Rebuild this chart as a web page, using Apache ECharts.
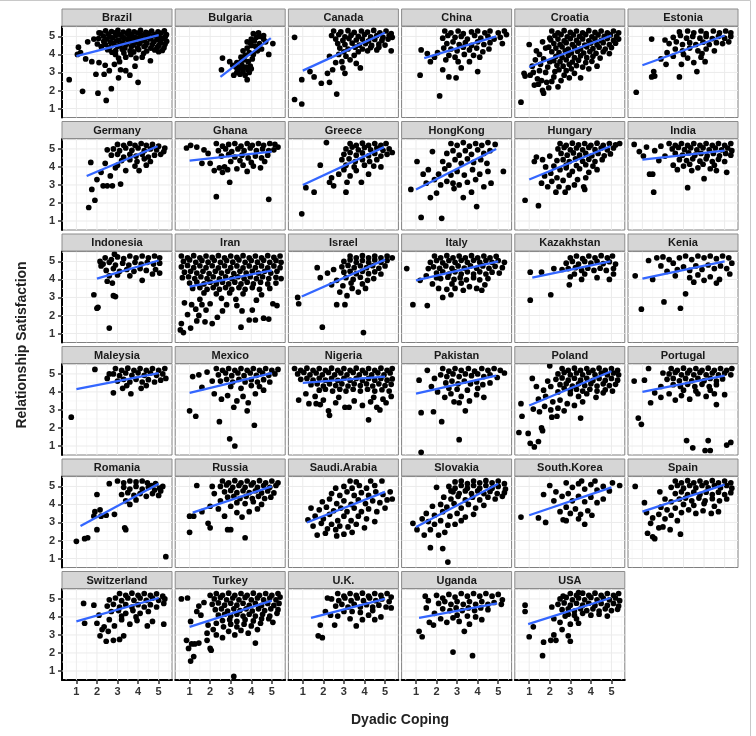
<!DOCTYPE html>
<html>
<head>
<meta charset="utf-8">
<script src="https://cdn.jsdelivr.net/npm/echarts@6/dist/echarts.min.js"></script>
<style>
  html, body { margin: 0; padding: 0; background: #fff; }
  #chart { width: 756px; height: 736px; }
</style>
</head>
<body>
<div id="chart"></div>
<script>
// facet names, in reading order
const countries = ['Brazil', 'Bulgaria', 'Canada', 'China', 'Croatia', 'Estonia',
  'Germany', 'Ghana', 'Greece', 'HongKong', 'Hungary', 'India',
  'Indonesia', 'Iran', 'Israel', 'Italy', 'Kazakhstan', 'Kenia',
  'Maleysia', 'Mexico', 'Nigeria', 'Pakistan', 'Poland', 'Portugal',
  'Romania', 'Russia', 'Saudi.Arabia', 'Slovakia', 'South.Korea', 'Spain',
  'Switzerland', 'Turkey', 'U.K.', 'Uganda', 'USA'];

// regression line per country: [x1, y1, x2, y2]
const fitLines = [
  [1.0, 3.9, 5.0, 5.07], [2.5, 2.75, 4.95, 4.9], [1.0, 3.1, 5.0, 5.2], [1.4, 3.8, 4.9, 5.0], [1.0, 3.3, 5.0, 5.05], [1.0, 3.4, 5.0, 5.05],
  [1.5, 3.5, 4.95, 5.15], [1.0, 4.35, 5.0, 4.85], [1.0, 3.0, 4.95, 5.1], [1.0, 2.75, 4.9, 5.0], [1.0, 3.3, 4.95, 5.15], [1.0, 4.4, 5.0, 4.9],
  [2.0, 4.05, 5.0, 5.05], [1.0, 3.6, 5.0, 4.5], [0.95, 3.05, 5.0, 5.1], [1.0, 3.95, 5.0, 5.0], [1.15, 4.1, 4.95, 5.0], [1.0, 4.05, 5.0, 5.0],
  [1.0, 4.15, 5.0, 5.05], [1.0, 3.95, 5.0, 5.05], [1.0, 4.5, 5.0, 4.85], [1.0, 3.9, 4.9, 4.9], [1.0, 3.25, 5.0, 5.15], [1.0, 4.0, 5.0, 4.9],
  [1.2, 2.8, 5.0, 5.15], [1.15, 3.55, 5.0, 5.0], [1.2, 3.0, 5.0, 4.7], [1.0, 2.75, 5.0, 5.15], [1.0, 3.4, 5.0, 4.95], [1.0, 3.6, 5.0, 5.1],
  [1.0, 3.75, 5.0, 5.05], [1.0, 3.45, 5.0, 4.9], [1.4, 3.95, 5.0, 5.0], [1.15, 3.95, 4.95, 4.75], [0.95, 3.6, 4.95, 5.05]
];

// observed points per country, "x,y" pairs (dyadic coping, satisfaction)
const pointStrings = [
// Brazil
`0.65,2.6 1.3,1.95 2.05,1.85 2.45,1.45 2.7,2.1 3.05,2.7 4.0,2.45 3.6,2.85 3.4,3.1 3.85,3.35 4.6,3.65 2.35,2.9 1.95,2.9 2.6,3.1 3.15,3.15 2.4,3.4 2.1,3.55 2.85,3.45 3.1,3.6 1.75,3.6 1.45,3.75 1.2,4.1 1.1,4.4 1.55,4.7 1.85,4.85 2.1,5.2 1.05,4.0 2.9,4.0 3.05,3.8 3.4,3.85 3.65,4.0 3.9,3.8 4.2,3.85 5.0,4.15
2.42,5.31 2.71,5.27 3.02,5.33 3.28,5.24 3.55,5.3 3.81,5.26 4.12,5.33 4.38,5.22 4.66,5.3 4.97,5.25 5.28,5.31
2.18,5.18 2.55,5.13 2.88,5.2 3.14,5.09 3.47,5.16 3.7,5.11 3.98,5.19 4.27,5.08 4.52,5.17 4.83,5.12 5.12,5.19 5.38,5.1
2.31,5.02 2.63,4.97 2.93,5.06 3.26,4.95 3.58,5.01 3.86,4.93 4.14,5.04 4.47,4.96 4.74,5.03 5.06,4.94 5.33,4.99
2.08,4.88 2.47,4.85 2.77,4.92 3.07,4.8 3.38,4.87 3.69,4.83 4.02,4.9 4.31,4.79 4.6,4.86 4.92,4.82 5.22,4.88
2.33,4.72 2.66,4.68 2.96,4.76 3.24,4.64 3.57,4.71 3.84,4.66 4.17,4.74 4.43,4.63 4.77,4.7 5.09,4.65 5.39,4.73
2.02,4.58 2.41,4.55 2.82,4.61 3.11,4.5 3.43,4.57 3.76,4.52 4.06,4.59 4.36,4.49 4.69,4.55 5.01,4.5 5.31,4.57
2.21,4.43 2.62,4.38 3.01,4.45 3.36,4.35 3.67,4.42 3.97,4.37 4.29,4.44 4.62,4.35 4.94,4.41 5.26,4.37
2.52,4.26 2.91,4.21 3.23,4.29 3.61,4.2 4.03,4.27 4.42,4.19 4.81,4.25 5.18,4.22 2.73,4.12 3.31,4.08 3.79,4.14 4.27,4.06`,
// Bulgaria
`2.6,3.8 2.55,3.15 2.95,3.6 3.1,3.4 3.8,2.6 3.15,2.85 4.85,4.0 5.05,4.6 3.3,3.0 3.45,2.9 3.6,3.05 3.7,2.85 3.9,3.0 3.25,3.3 3.4,3.25 3.55,3.4 3.75,3.3 3.95,3.35 3.3,3.55 3.5,3.6 3.65,3.7 3.85,3.6 4.05,3.75 3.5,3.85 3.7,3.95 3.9,4.1 4.1,4.0 4.3,4.2 3.6,4.2 3.8,4.35 4.0,4.5 4.2,4.45 4.4,4.6 3.8,4.7 4.0,4.85 4.25,4.95 4.45,5.0 4.1,5.15 4.35,5.2 4.6,5.05 4.7,4.7 4.5,4.3 3.95,4.65 4.15,4.75 4.6,4.85 3.35,3.1 3.85,3.15 4.0,3.2 3.6,3.2`,
// Canada
`0.6,4.95 0.6,1.5 0.95,1.25 0.95,2.6 1.35,3.05 1.55,2.75 1.9,2.4 2.3,2.45 2.65,1.8 2.45,3.15 2.2,2.95 2.95,3.25 3.05,2.95 2.9,3.6 2.75,4.0 2.3,3.9 3.8,3.25 3.6,3.5 5.3,4.2 5.35,4.95 4.15,4.2 4.7,4.4 3.3,3.7 3.1,3.9 3.5,3.95 2.6,3.55
2.5,5.3 2.85,5.25 3.2,5.32 3.5,5.22 3.85,5.3 4.15,5.24 4.45,5.33 4.75,5.2 5.05,5.3 5.3,5.15
2.4,5.05 2.75,5.1 3.05,4.98 3.35,5.07 3.7,5.0 4.0,5.1 4.3,4.97 4.6,5.05 4.9,4.95 5.2,5.05
2.6,4.85 2.95,4.78 3.25,4.88 3.6,4.8 3.9,4.85 4.2,4.75 4.5,4.83 4.85,4.78 5.15,4.85
2.7,4.6 3.05,4.55 3.4,4.63 3.75,4.52 4.05,4.6 4.35,4.5 4.7,4.58 5.0,4.52
2.8,4.35 3.2,4.3 3.55,4.4 3.9,4.3 4.3,4.38 4.6,4.25 3.0,4.15 3.7,4.15`,
// China
`1.2,2.85 2.15,1.7 1.25,4.25 1.7,3.6 1.9,3.85 2.6,2.75 2.95,2.7 4.0,3.05 2.3,3.15 3.2,3.25 3.6,3.6 1.55,4.05 2.05,4.1
2.4,5.3 2.7,5.2 3.05,5.3 3.3,5.15 3.7,5.25 4.0,5.3 4.35,5.2 4.6,5.3 5.0,5.2 5.3,5.3 5.4,5.1
2.3,4.9 2.55,5.05 2.9,4.95 3.2,5.0 3.5,4.85 3.85,5.05 4.15,4.9 4.5,5.0 4.8,4.85 5.1,4.95
2.5,4.6 2.8,4.7 3.1,4.55 3.4,4.65 3.7,4.5 4.0,4.7 4.3,4.55 4.6,4.65 5.2,4.6
2.35,4.35 2.7,4.3 3.0,4.2 3.3,4.4 3.6,4.25 3.95,4.35 4.25,4.15 4.55,4.3
2.6,3.95 2.9,3.85 3.35,4.0 3.8,3.95 4.1,3.85 2.45,3.7 3.05,3.6`,
// Croatia
`0.6,1.35 0.8,2.8 1.05,2.85 1.25,2.3 1.45,2.35 1.65,2.0 1.7,1.85 1.95,2.15 2.4,2.2 2.95,2.7 3.5,2.7 1.0,4.55 1.35,4.2 0.75,2.95 1.2,3.0 1.4,2.65 1.6,2.55 1.85,2.45 2.1,2.5 2.2,2.75 2.55,2.55 2.7,2.85 1.5,3.1 1.8,3.0 1.15,3.35 1.55,3.45 1.9,3.3 2.25,3.05 1.3,3.7 1.7,3.75 2.0,3.6 1.5,4.0 1.8,4.35 1.65,4.7 2.0,4.9 3.2,2.95 3.9,3.2 4.3,3.35
2.1,5.3 2.4,5.2 2.7,5.32 3.0,5.22 3.3,5.3 3.6,5.2 3.9,5.32 4.2,5.22 4.5,5.3 4.8,5.2 5.1,5.3 5.35,5.2
2.25,5.05 2.55,5.1 2.85,4.98 3.15,5.08 3.45,5.0 3.75,5.1 4.05,4.98 4.35,5.08 4.65,5.0 4.95,5.08 5.25,5.0
2.05,4.8 2.4,4.85 2.7,4.75 3.0,4.88 3.3,4.78 3.6,4.86 3.9,4.75 4.2,4.86 4.5,4.78 4.8,4.88 5.1,4.78 5.35,4.85
2.2,4.6 2.5,4.55 2.8,4.65 3.1,4.55 3.4,4.63 3.7,4.52 4.0,4.63 4.3,4.55 4.6,4.65 4.9,4.55 5.2,4.62
1.95,4.4 2.3,4.35 2.6,4.42 2.9,4.3 3.2,4.4 3.5,4.3 3.8,4.42 4.1,4.32 4.4,4.4 4.7,4.3 5.0,4.38
2.1,4.15 2.45,4.1 2.75,4.2 3.05,4.08 3.35,4.18 3.65,4.08 3.95,4.16 4.25,4.06 4.6,4.15 4.9,4.05
2.3,3.9 2.6,3.85 2.9,3.95 3.2,3.82 3.5,3.92 3.8,3.82 4.1,3.9 4.45,3.8
2.2,3.65 2.5,3.6 2.8,3.7 3.1,3.58 3.4,3.68 3.75,3.55 4.05,3.62
2.35,3.4 2.65,3.35 2.95,3.45 3.3,3.38 3.6,3.3 2.45,3.15 2.8,3.1 3.05,3.2`,
// Estonia
`0.7,1.9 1.45,2.75 1.6,2.8 1.55,3.05 1.45,4.85 2.15,3.45 2.1,4.8 2.8,2.75 3.65,3.05 4.05,3.6 2.9,3.45 3.2,3.8 1.9,3.75 2.5,3.9 3.5,3.55 3.85,3.85
2.8,5.25 3.2,5.3 3.5,5.2 3.85,5.3 4.1,5.15 4.45,5.3 4.75,5.2 5.05,5.3 5.3,5.2
2.5,4.95 2.85,5.05 3.15,4.9 3.45,5.0 3.8,4.9 4.1,5.0 4.4,4.88 4.7,5.0 5.0,4.9 5.3,5.0
2.3,4.6 2.65,4.7 2.95,4.55 3.3,4.65 3.6,4.55 3.95,4.68 4.25,4.55 4.6,4.65 4.9,4.6 5.2,4.7
2.6,4.3 2.95,4.2 3.3,4.35 3.7,4.2 4.1,4.3 4.5,4.2 2.2,4.1 3.0,4.0 3.9,4.05`,
// Germany
`1.6,1.75 1.9,2.15 1.75,2.75 1.7,4.25 2.0,3.3 2.3,2.95 2.5,2.95 2.75,2.95 3.15,3.05 2.2,3.7 2.4,4.2 3.4,3.8 4.05,3.8 2.65,3.5 2.9,3.95
3.0,5.25 3.3,5.2 3.6,5.3 3.85,5.2 4.15,5.3 4.4,5.2 4.7,5.25 5.0,5.15
2.5,4.95 2.8,5.0 3.1,4.9 3.4,5.05 3.7,4.92 4.0,5.05 4.3,4.9 4.6,5.0 4.9,4.95 5.25,4.85 5.3,5.05
2.7,4.65 3.0,4.7 3.3,4.55 3.6,4.7 3.9,4.6 4.2,4.7 4.5,4.55 4.8,4.65 5.1,4.7
3.2,4.35 3.6,4.4 3.95,4.3 4.3,4.45 4.6,4.3 3.0,4.1 3.85,4.05 4.4,4.1`,
// Ghana
`0.85,5.05 1.05,5.2 1.7,4.95 1.6,4.2 2.3,2.35 2.95,3.15 4.85,2.2 2.6,3.7 2.2,3.8 2.0,4.2 2.45,3.95 2.85,3.85 3.3,3.9 3.6,4.1 4.1,4.05 4.45,3.95 3.8,3.75 1.35,5.1 1.9,4.75 2.7,4.0
2.3,5.3 2.6,5.15 2.9,5.25 3.2,5.3 3.5,5.15 3.8,5.3 4.05,5.2 4.35,5.3 4.6,5.2 4.9,5.3 5.15,5.25 5.3,5.1
2.4,4.9 2.75,5.0 3.05,4.85 3.35,5.0 3.65,4.9 3.95,5.05 4.25,4.9 4.55,5.0 4.85,4.9 5.1,4.95
2.55,4.6 2.9,4.7 3.2,4.55 3.55,4.65 3.85,4.5 4.2,4.6 4.5,4.5 4.8,4.65 3.0,4.3 3.45,4.35 4.0,4.25 4.65,4.3`,
// Greece
`0.95,1.4 1.15,2.85 1.55,2.6 1.85,4.1 2.15,5.35 2.3,3.15 2.5,2.95 2.4,3.4 3.1,2.6 3.15,3.15 3.85,3.15 3.6,3.8 4.2,3.6 4.8,4.0 2.75,3.6 3.0,3.85 3.3,3.5
3.3,5.3 3.6,5.2 3.9,5.32 4.2,5.2 4.5,5.3 4.8,5.2 5.05,5.3
3.1,5.0 3.4,5.1 3.7,4.95 4.0,5.08 4.3,4.95 4.6,5.05 4.9,4.92 5.2,5.0 5.35,4.8
3.0,4.7 3.3,4.8 3.6,4.65 3.9,4.78 4.2,4.62 4.5,4.75 4.8,4.6 5.1,4.7
2.9,4.4 3.25,4.45 3.55,4.3 3.9,4.4 4.25,4.3 4.6,4.4 3.1,4.1 3.5,4.0 4.0,4.1 4.45,4.05`,
// HongKong
`1.25,1.2 2.25,1.15 3.95,1.8 0.75,2.75 1.05,4.3 1.35,3.6 1.8,4.85 5.25,3.75 4.65,3.1 1.7,2.3 2.0,2.55 2.85,2.8 3.3,2.3 3.7,2.6 1.5,3.1 1.9,3.3 2.2,3.0 2.5,3.2 2.8,3.1 3.1,3.0 3.5,3.15 3.9,3.3 4.3,2.9 1.6,3.85 2.1,3.6 2.4,3.9 2.7,3.55 3.0,3.75 3.35,3.55 3.75,3.85 4.1,3.6 4.5,3.75 2.3,4.3 2.6,4.1 2.9,4.4 3.2,4.2 3.5,4.45 3.8,4.25 4.15,4.4 4.45,4.2 2.5,4.75 2.8,4.9 3.1,4.65 3.4,4.9 3.7,4.7 4.0,4.95 4.3,4.75 4.6,4.9 3.0,5.2 3.3,5.35 3.6,5.15 3.9,5.3 4.2,5.2 4.5,5.35 4.85,5.25 2.7,5.3`,
// Hungary
`0.8,2.15 1.45,1.85 1.35,4.55 1.25,4.3 2.3,2.6 2.75,2.6 3.7,2.75 3.65,2.9 1.6,3.1 1.9,2.9 2.1,3.2 2.45,2.9 2.9,2.85 3.2,3.0 1.75,3.5 2.05,3.65 2.35,3.4 2.65,3.25 2.95,3.55 3.35,3.3 3.75,3.4 1.8,4.0 2.2,4.05 2.5,3.85 2.8,3.95 3.1,3.75 3.45,3.9 3.9,3.7 4.3,3.85 1.65,4.4 2.0,4.6 2.35,4.35
2.5,5.3 2.8,5.2 3.1,5.32 3.4,5.22 3.7,5.3 4.0,5.2 4.3,5.32 4.6,5.2 4.9,5.3 5.2,5.22 5.4,5.3
2.4,5.0 2.7,5.08 3.0,4.95 3.3,5.05 3.6,4.95 3.9,5.08 4.2,4.96 4.5,5.05 4.8,4.95 5.1,5.05
2.55,4.75 2.85,4.65 3.15,4.78 3.45,4.65 3.75,4.75 4.05,4.62 4.35,4.75 4.65,4.62 4.95,4.72
2.65,4.4 2.95,4.3 3.25,4.45 3.6,4.32 3.9,4.42 4.2,4.3 4.55,4.4 2.8,4.1 3.3,4.08 3.75,4.12 4.1,4.05`,
// India
`0.6,5.25 0.85,4.85 1.05,4.6 1.35,3.6 1.5,3.6 1.55,2.6 3.2,2.85 4.0,3.35 5.1,3.7 1.2,5.1 1.6,4.9 1.9,5.15 2.1,4.6 1.8,4.35 2.5,4.1 2.7,3.85 3.0,4.05 3.4,3.8 3.7,3.95 4.3,3.9 4.6,3.8
2.3,5.3 2.6,5.2 2.9,5.3 3.2,5.2 3.5,5.3 3.8,5.2 4.1,5.3 4.4,5.2 4.7,5.3 5.0,5.2 5.3,5.3
2.45,5.0 2.75,5.08 3.05,4.96 3.35,5.06 3.65,4.95 3.95,5.06 4.25,4.95 4.55,5.05 4.85,4.95 5.15,5.05 5.35,4.9
2.6,4.75 2.95,4.65 3.25,4.78 3.55,4.65 3.85,4.75 4.15,4.62 4.45,4.75 4.75,4.62 5.05,4.75 5.3,4.65
2.8,4.4 3.15,4.35 3.45,4.45 3.8,4.32 4.1,4.45 4.4,4.3 4.7,4.42 5.0,4.3 3.3,4.15 3.95,4.15 4.5,4.1`,
// Indonesia
`1.85,3.15 2.0,2.4 2.05,2.45 2.6,1.3 2.8,3.1 2.9,3.05 2.5,3.9 2.75,3.8 2.2,4.75 2.15,5.0 2.85,5.4 4.2,3.95 4.7,4.3 5.05,4.35
2.4,5.2 2.7,5.1 3.0,5.25 3.3,5.15 3.6,5.3 3.9,5.2 4.2,5.3 4.5,5.2 4.8,5.3 5.05,5.2
2.3,4.85 2.6,4.95 2.9,4.8 3.25,4.9 3.55,4.8 3.85,4.95 4.15,4.85 4.45,4.95 4.75,4.85 5.05,4.9
2.45,4.5 2.8,4.6 3.1,4.45 3.45,4.55 3.8,4.45 4.1,4.6 4.4,4.5 4.85,4.55 2.6,4.2 3.0,4.25 3.6,4.2`,
// Iran
`0.6,5.3 0.9,5.2 1.2,5.32 1.5,5.2 1.8,5.3 2.1,5.22 2.4,5.32 2.7,5.2 3.0,5.3 3.3,5.22 3.6,5.32 3.9,5.2 4.2,5.3 4.5,5.2 4.8,5.32 5.1,5.22 5.4,5.3
0.7,5.0 1.0,5.08 1.3,4.95 1.6,5.05 1.9,4.96 2.2,5.06 2.5,4.95 2.8,5.05 3.1,4.96 3.4,5.08 3.7,4.95 4.0,5.05 4.3,4.96 4.6,5.06 4.9,4.95 5.2,5.05 5.45,4.95
0.6,4.7 0.9,4.78 1.2,4.65 1.5,4.76 1.8,4.65 2.1,4.76 2.4,4.64 2.7,4.76 3.0,4.65 3.3,4.75 3.6,4.64 3.9,4.75 4.2,4.65 4.5,4.75 4.8,4.64 5.1,4.75 5.4,4.65
0.75,4.4 1.05,4.45 1.35,4.35 1.65,4.45 1.95,4.33 2.25,4.45 2.55,4.35 2.85,4.45 3.15,4.33 3.45,4.45 3.75,4.35 4.05,4.45 4.35,4.35 4.65,4.45 4.95,4.35 5.25,4.45
0.65,4.1 0.95,4.15 1.25,4.05 1.55,4.15 1.85,4.05 2.15,4.15 2.45,4.03 2.75,4.15 3.05,4.05 3.35,4.15 3.65,4.05 3.95,4.15 4.25,4.05 4.55,4.15 4.85,4.05 5.2,4.12 5.45,4.05
1.0,3.8 1.35,3.85 1.7,3.75 2.0,3.85 2.3,3.75 2.6,3.85 2.9,3.75 3.2,3.85 3.5,3.75 3.8,3.85 4.1,3.75 4.45,3.85 4.8,3.75 5.2,3.8
1.15,3.5 1.5,3.55 1.85,3.45 2.15,3.55 2.45,3.45 2.75,3.55 3.05,3.45 3.4,3.55 3.7,3.45 4.05,3.55 4.4,3.45 4.9,3.5
1.7,3.25 2.3,3.2 2.95,3.25 3.6,3.2 4.5,3.15 1.5,2.9 2.55,2.95 3.25,2.9 4.25,2.85 5.05,2.65 5.25,2.55
0.75,2.7 1.1,2.6 1.6,2.6 2.0,2.65 2.8,2.6 3.3,2.55 1.3,2.35 1.8,2.3 2.6,2.25 3.55,2.25 4.05,2.3
0.9,2.05 1.45,2.0 2.35,1.9 3.9,1.75 4.6,1.85 4.85,1.8
0.6,1.55 1.35,1.7 1.75,1.65 2.1,1.55 0.55,1.2 0.7,1.05 1.05,1.3 3.5,1.35 4.2,1.75`,
// Israel
`0.75,3.0 0.8,2.65 1.95,1.35 3.95,1.05 1.85,4.1 1.7,4.65 2.65,2.6 3.05,2.6 2.8,3.3 3.15,3.1 2.4,3.7 2.65,3.95 2.95,3.65 3.4,3.5 3.7,3.3 4.05,3.5 2.2,4.35 2.5,4.55
3.3,5.3 3.6,5.2 3.9,5.32 4.2,5.2 4.5,5.3 4.8,5.2 5.1,5.3 5.35,5.2
3.0,5.0 3.3,5.08 3.6,4.95 3.9,5.05 4.2,4.95 4.5,5.08 4.8,4.95 5.1,5.05
2.9,4.7 3.2,4.78 3.5,4.65 3.8,4.76 4.1,4.65 4.4,4.76 4.7,4.62 5.0,4.75
3.0,4.4 3.3,4.45 3.6,4.32 3.9,4.45 4.2,4.32 4.5,4.42 4.8,4.3 3.1,4.1 3.45,4.0 3.8,4.12 4.15,3.95 4.45,4.05 3.35,3.8 3.9,3.75`,
// Italy
`0.55,4.6 0.85,2.6 1.55,2.55 2.3,3.0 2.7,3.15 4.2,3.4 4.35,3.7 1.2,3.95 1.5,4.2 1.8,3.75 2.1,3.5 2.5,3.45 2.9,3.5 3.3,3.4 3.6,3.6 3.95,3.5 1.6,4.6 2.0,4.1
1.9,5.3 2.2,5.2 2.5,5.32 2.8,5.2 3.1,5.3 3.4,5.2 3.7,5.32 4.0,5.2 4.3,5.3 4.6,5.2 4.9,5.28
1.7,4.95 2.0,5.05 2.3,4.92 2.6,5.05 2.9,4.95 3.2,5.06 3.5,4.95 3.8,5.06 4.1,4.95 4.4,5.05 4.7,4.95 5.0,5.05 5.3,4.95
1.85,4.7 2.15,4.62 2.45,4.75 2.75,4.62 3.05,4.75 3.35,4.63 3.65,4.75 3.95,4.62 4.25,4.75 4.55,4.62 4.85,4.73 5.2,4.65
2.0,4.35 2.3,4.42 2.6,4.3 2.9,4.42 3.2,4.3 3.5,4.42 3.8,4.3 4.1,4.42 4.4,4.3 4.7,4.4 5.05,4.35
2.2,4.05 2.55,4.12 2.85,4.0 3.15,4.1 3.45,3.98 3.8,4.1 4.1,3.98 4.5,4.05 2.75,3.75 3.2,3.8`,
// Kazakhstan
`1.05,2.85 1.05,4.4 1.6,4.4 2.05,3.15 2.95,3.7 2.2,4.6 2.6,4.55 3.0,4.15 3.55,4.0 4.3,4.1 4.9,4.0 5.1,4.3
3.0,5.2 3.3,5.3 3.6,5.15 3.9,5.3 4.2,5.2 4.5,5.32 4.8,5.2 5.05,5.3
2.8,4.9 3.1,5.0 3.4,4.85 3.7,5.0 4.0,4.9 4.3,5.0 4.6,4.88 4.9,4.98 5.2,4.85
2.9,4.6 3.25,4.65 3.55,4.5 3.85,4.62 4.15,4.5 4.45,4.62 4.75,4.5 5.1,4.6 3.2,4.3 3.7,4.3`,
// Kenia
`0.65,4.2 0.95,2.35 2.05,2.75 2.85,2.4 3.1,3.2 1.5,4.0 1.3,5.05 1.7,5.2 2.0,5.25 2.3,5.1 1.9,4.75 2.2,4.45 2.5,4.9 2.8,5.2 3.1,5.3 3.4,5.1 3.7,5.3 4.0,5.2 4.3,5.3 4.6,5.15 4.9,5.3 5.2,5.2 5.35,4.9
2.7,4.55 3.0,4.7 3.3,4.5 3.6,4.75 3.9,4.55 4.2,4.8 4.5,4.6 4.8,4.75 5.1,4.6 2.6,4.2 3.3,4.1 3.7,4.25 4.0,3.95 4.3,4.15 4.6,3.8 5.25,4.3 3.5,3.85 4.75,4.0`,
// Maleysia
`0.75,2.6 1.9,5.25 2.8,3.95 3.25,4.2 3.65,3.9 4.15,4.2 2.5,4.75 2.6,5.0
2.9,5.3 3.2,5.2 3.5,5.32 3.8,5.2 4.1,5.3 4.4,5.2 4.7,5.3 5.0,5.2 5.3,5.3
2.8,5.0 3.1,4.9 3.4,5.05 3.7,4.92 4.0,5.06 4.3,4.92 4.6,5.05 4.9,4.92 5.2,5.0 5.35,4.75
3.0,4.6 3.3,4.7 3.6,4.55 3.9,4.7 4.2,4.55 4.5,4.68 4.8,4.55 5.1,4.65 3.45,4.35 4.4,4.35`,
// Mexico
`1.0,2.95 1.3,2.65 1.15,4.85 2.45,2.35 2.95,1.4 3.2,1.0 4.15,2.15 3.15,3.15 3.8,2.95 2.55,3.6 2.85,3.8 3.3,3.5 3.6,3.75 3.85,3.4 2.2,3.9 1.6,4.25 1.45,4.95 1.85,5.1 2.1,4.6 4.2,3.9 4.6,4.1
2.3,5.3 2.6,5.2 2.9,5.3 3.2,5.2 3.5,5.3 3.8,5.2 4.1,5.3 4.4,5.2 4.7,5.3 5.0,5.2 5.3,5.25
2.4,4.95 2.75,5.05 3.05,4.9 3.35,5.05 3.65,4.9 3.95,5.05 4.25,4.92 4.55,5.05 4.85,4.92 5.15,5.0
2.5,4.6 2.8,4.7 3.1,4.55 3.4,4.7 3.7,4.55 4.0,4.68 4.3,4.55 4.6,4.68 4.9,4.55 3.0,4.3 3.5,4.2 4.0,4.35 4.4,4.3`,
// Nigeria
`0.8,3.55 1.3,3.35 1.65,3.35 1.85,3.3 2.3,2.7 2.25,2.95 3.05,3.15 3.25,3.15 4.2,2.45 4.6,3.15 4.75,3.0 5.05,3.4 1.15,3.9 1.6,3.75 2.0,3.55 2.6,3.4 2.75,3.7 3.5,3.5 3.9,3.25 4.3,3.45 4.45,3.7 4.9,3.6 5.3,3.75
0.6,5.3 0.9,5.2 1.2,5.32 1.5,5.2 1.8,5.3 2.1,5.2 2.4,5.32 2.7,5.2 3.0,5.3 3.3,5.2 3.6,5.32 3.9,5.2 4.2,5.3 4.5,5.2 4.8,5.32 5.1,5.2 5.35,5.3
0.75,5.0 1.05,5.08 1.35,4.95 1.65,5.05 1.95,4.95 2.25,5.08 2.55,4.95 2.85,5.05 3.15,4.95 3.45,5.08 3.75,4.95 4.05,5.05 4.35,4.95 4.65,5.06 4.95,4.95 5.25,5.05
0.9,4.7 1.2,4.75 1.5,4.65 1.8,4.76 2.1,4.65 2.4,4.76 2.7,4.64 3.0,4.76 3.3,4.65 3.6,4.75 3.9,4.64 4.2,4.75 4.5,4.65 4.8,4.75 5.1,4.65 5.35,4.72
1.4,4.4 1.7,4.45 2.0,4.33 2.3,4.45 2.6,4.35 2.9,4.45 3.2,4.33 3.5,4.45 3.8,4.35 4.1,4.45 4.4,4.33 4.7,4.45 5.0,4.35 5.3,4.42
1.8,4.1 2.1,4.15 2.45,4.05 2.8,4.15 3.1,4.05 3.45,4.15 3.8,4.05 4.15,4.15 4.5,4.05 4.85,4.12 5.2,4.05`,
// Pakistan
`1.25,0.65 1.25,2.85 1.85,2.9 2.25,2.35 3.1,1.35 2.85,3.45 3.1,3.4 3.4,2.95 1.55,5.2 1.15,4.65 1.75,4.3 2.05,4.0 2.4,3.7 2.7,3.9 3.2,3.75 3.6,3.5 3.95,3.85 4.3,3.7 1.9,4.75
2.3,5.3 2.6,5.15 2.9,5.3 3.2,5.2 3.55,5.3 3.85,5.15 4.2,5.3 4.5,5.2 4.8,5.3 5.1,5.2 5.3,5.05
2.2,4.95 2.5,4.85 2.8,5.0 3.1,4.85 3.4,5.0 3.7,4.9 4.0,5.0 4.3,4.85 4.6,4.95 4.95,4.8
2.45,4.5 2.75,4.6 3.05,4.45 3.35,4.6 3.65,4.45 3.95,4.55 4.25,4.4 4.6,4.5 2.6,4.2 3.0,4.15 3.5,4.1 4.0,4.2`,
// Poland
`0.6,3.35 0.5,1.75 0.95,1.7 1.05,1.15 1.25,0.95 1.45,1.25 0.65,2.65 1.6,2.0 1.65,1.85 2.1,2.6 2.35,2.65 3.5,2.55 2.0,5.45 1.15,4.75 1.35,4.3 1.2,3.05 1.5,2.9 1.75,3.2 2.05,3.0 2.4,3.1 2.7,2.95 1.45,3.6 1.8,3.75 2.15,3.45 2.5,3.55 2.85,3.35 3.2,3.25 3.6,3.45 1.7,4.1 2.05,4.3 2.4,4.0 2.7,4.2 3.0,3.9 3.4,3.75 3.8,3.9 4.25,3.7 4.6,3.95 1.9,4.6
2.6,5.3 2.9,5.2 3.2,5.32 3.5,5.2 3.8,5.3 4.1,5.2 4.4,5.32 4.7,5.2 5.0,5.3 5.3,5.2
2.4,5.0 2.7,5.08 3.0,4.95 3.3,5.05 3.6,4.95 3.9,5.08 4.2,4.95 4.5,5.05 4.8,4.95 5.1,5.05 5.35,4.95
2.3,4.7 2.6,4.78 2.9,4.65 3.2,4.76 3.5,4.65 3.8,4.76 4.1,4.64 4.4,4.75 4.7,4.64 5.0,4.75 5.3,4.65
2.5,4.4 2.8,4.45 3.1,4.33 3.4,4.45 3.7,4.35 4.0,4.45 4.3,4.33 4.6,4.45 4.9,4.35 5.2,4.42
3.0,4.1 3.3,4.15 3.6,4.05 3.95,4.15 4.3,4.05 4.7,4.12 5.05,4.05`,
// Portugal
`0.6,4.6 1.1,4.65 0.8,2.55 0.95,2.2 1.4,3.4 3.15,1.3 3.45,0.9 4.2,1.3 4.05,0.75 4.3,0.75 5.1,1.05 5.3,1.2 4.6,3.3 1.6,3.95 1.9,3.7 2.3,3.9 2.6,3.55 2.9,3.8 3.3,3.6 3.7,3.9 4.1,3.75 4.5,3.9 5.0,3.85 1.9,4.3 1.3,5.3 2.0,5.05
2.4,5.3 2.7,5.2 3.0,5.32 3.3,5.2 3.6,5.3 3.9,5.2 4.2,5.32 4.5,5.2 4.8,5.3 5.1,5.2 5.35,5.3
2.3,5.0 2.6,5.08 2.9,4.95 3.2,5.05 3.5,4.95 3.8,5.08 4.1,4.95 4.4,5.05 4.7,4.95 5.0,5.05 5.3,4.95
2.2,4.7 2.5,4.75 2.8,4.62 3.1,4.75 3.4,4.62 3.7,4.75 4.0,4.62 4.3,4.75 4.6,4.6 4.9,4.72
2.5,4.4 2.85,4.3 3.2,4.42 3.55,4.3 3.9,4.42 4.25,4.3 4.6,4.4 3.0,4.1 3.6,4.05 4.3,4.1`,
// Romania
`1.0,1.95 1.4,2.1 1.55,2.15 2.0,2.6 1.9,3.6 1.85,3.35 2.0,4.55 2.2,3.35 2.45,3.4 2.85,3.45 3.35,2.7 3.4,2.6 5.35,1.1 2.6,5.15 2.15,3.7
3.0,5.3 3.3,5.2 3.6,5.3 3.9,5.25 4.2,5.3 4.45,5.2 4.65,5.05 4.85,5.15 5.05,4.9 5.2,5.0
3.3,4.95 3.6,4.85 3.9,5.0 4.2,4.85 4.5,4.95 4.8,4.8 5.1,4.75
3.2,4.55 3.5,4.65 3.8,4.5 4.1,4.6 4.4,4.45 4.7,4.6 5.0,4.5 3.4,4.2 3.9,4.25 3.6,4.0`,
// Russia
`1.0,2.45 1.0,3.35 1.2,3.35 1.35,5.05 1.9,2.95 2.0,2.7 2.85,2.6 3.0,2.6 3.7,2.15 2.2,4.6 2.1,5.0 1.6,3.6 2.0,3.9 2.4,3.75 2.7,3.35 3.0,3.9 3.3,3.55 3.55,3.3 3.9,3.6 4.3,3.75 2.5,4.2
2.6,5.3 2.9,5.2 3.2,5.32 3.5,5.2 3.8,5.3 4.1,5.2 4.4,5.32 4.7,5.2 5.0,5.3 5.3,5.2
2.5,5.0 2.8,5.08 3.1,4.95 3.4,5.05 3.7,4.95 4.0,5.08 4.3,4.95 4.6,5.05 4.9,4.95 5.2,5.05
2.7,4.7 3.0,4.78 3.3,4.65 3.6,4.76 3.9,4.65 4.2,4.76 4.5,4.64 4.8,4.75 5.1,4.64
2.85,4.4 3.15,4.45 3.45,4.33 3.75,4.45 4.05,4.33 4.35,4.45 4.65,4.33 4.95,4.4 3.3,4.1 3.7,4.05 4.1,4.15 4.5,4.0`,
// Saudi.Arabia
`1.4,3.8 1.25,3.15 1.7,2.3 2.1,2.4 2.65,2.25 3.3,5.3 4.85,5.3 5.35,4.3 3.0,2.35 3.4,2.45 2.2,2.65 2.6,2.6 1.5,2.8 1.9,2.95 2.4,2.9 2.8,2.8 3.2,2.75 3.6,2.9 4.0,2.7 1.6,3.35 2.0,3.2 2.3,3.45 2.7,3.1 3.0,3.35 3.35,3.1 3.7,3.35 4.1,3.2 4.5,3.05 1.8,3.7 2.15,3.85 2.5,3.65 2.85,3.8 3.15,3.6 3.5,3.8 3.85,3.6 4.2,3.75 4.6,3.6 5.0,3.8 1.95,4.15 2.3,4.3 2.65,4.05 3.0,4.2 3.35,4.0 3.7,4.25 4.05,4.05 4.4,4.2 4.75,4.1 5.1,4.25 2.4,4.6 2.8,4.5 3.15,4.7 3.5,4.5 3.85,4.65 4.2,4.5 4.55,4.7 4.9,4.55 5.25,4.7 2.6,4.9 3.0,5.0 3.4,4.9 3.75,5.05 4.1,4.9 4.5,5.05 3.6,5.25 4.3,5.3`,
// Slovakia
`2.55,0.8 1.7,1.6 2.3,1.55 0.85,2.95 1.05,2.6 1.4,2.3 1.7,2.6 2.1,2.3 2.4,2.45 1.9,2.9 2.0,4.95 2.7,4.75 1.3,3.2 1.6,3.05 2.2,3.1 2.55,2.85 2.9,2.9 3.2,3.1 1.5,3.5 1.9,3.4 2.3,3.6 2.65,3.35 3.0,3.5 3.4,3.3 3.8,3.45 1.8,3.9 2.2,4.0 2.5,3.85 2.85,4.05 3.2,3.8 3.55,4.0 3.9,3.8 4.3,3.95 2.35,4.4 2.7,4.3 3.05,4.45 3.4,4.25 3.75,4.4 4.1,4.25 4.5,4.4 4.85,4.3 5.2,4.45
2.9,5.25 3.2,5.3 3.5,5.15 3.8,5.3 4.1,5.2 4.4,5.32 4.7,5.2 5.0,5.3 5.3,5.15
2.6,5.0 2.9,4.9 3.2,5.05 3.5,4.9 3.8,5.05 4.1,4.9 4.4,5.05 4.7,4.9 5.0,5.0 5.35,4.85
2.8,4.7 3.1,4.6 3.4,4.75 3.7,4.6 4.0,4.75 4.3,4.6 4.6,4.72 4.95,4.6 5.3,4.65`,
// South.Korea
`0.6,3.3 1.45,3.25 1.8,3.0 2.65,3.15 2.8,3.1 3.4,3.2 3.7,2.9 2.0,5.05 1.7,4.55 5.4,5.05 2.2,4.2 2.5,3.6 2.8,3.85 3.0,3.5 3.25,3.75 3.5,3.45 3.85,3.65 4.05,3.4 2.3,4.7 2.6,4.45 2.9,4.6 3.1,4.2 3.4,4.45 3.7,4.15 4.0,4.4 4.3,4.1 4.6,4.3 2.8,5.2 3.1,4.95 3.4,5.15 3.7,4.85 4.0,5.1 4.3,4.8 4.6,5.0 4.9,4.75 5.05,5.2 3.55,5.3 4.2,5.3`,
// Spain
`0.65,5.0 1.1,4.1 1.2,3.55 1.25,2.4 1.5,2.2 1.6,2.1 1.8,2.7 2.0,2.75 2.35,2.6 2.85,2.35 1.4,2.95 1.5,3.25 1.8,3.45 2.1,3.2 2.4,3.4 2.7,3.1 1.9,3.85 2.2,3.7 2.6,3.8 2.9,3.55 3.25,3.7 3.6,3.5 3.95,3.65 4.35,3.5 4.7,3.6 2.1,4.3 2.4,4.15 1.85,4.7
2.6,5.3 2.9,5.2 3.2,5.32 3.5,5.2 3.8,5.3 4.1,5.2 4.4,5.32 4.7,5.2 5.0,5.3 5.3,5.2
2.4,4.95 2.7,5.05 3.0,4.9 3.3,5.05 3.6,4.92 3.9,5.05 4.2,4.92 4.5,5.05 4.8,4.92 5.1,5.05 5.35,4.9
2.6,4.6 2.9,4.7 3.2,4.55 3.5,4.68 3.8,4.55 4.1,4.68 4.4,4.55 4.7,4.68 5.0,4.55 5.3,4.65
2.8,4.3 3.1,4.35 3.4,4.2 3.75,4.35 4.05,4.2 4.4,4.32 4.75,4.2 5.1,4.3 3.0,4.0 3.5,3.95 4.0,4.05 4.5,3.9`,
// Switzerland
`1.35,4.75 1.4,3.65 1.85,4.65 2.0,3.65 2.15,2.95 2.45,2.65 2.8,2.7 3.1,2.75 3.3,2.95 2.25,3.3 2.35,3.45 2.55,3.2 2.85,3.5 4.45,3.5 5.25,3.6 4.7,3.75 3.6,3.6 3.95,3.8 2.1,4.1 2.6,3.85 3.2,3.85
3.1,5.3 3.4,5.2 3.7,5.32 4.0,5.2 4.3,5.3 4.6,5.2 4.9,5.28 5.2,5.15
2.6,4.95 2.9,5.05 3.2,4.9 3.5,5.05 3.8,4.92 4.1,5.05 4.4,4.92 4.7,5.05 5.0,4.92 5.3,5.0
2.5,4.6 2.8,4.7 3.1,4.55 3.4,4.68 3.7,4.55 4.0,4.68 4.3,4.55 4.6,4.68 4.9,4.55 5.25,4.75
2.7,4.3 3.05,4.35 3.4,4.2 3.75,4.35 4.1,4.2 4.5,4.3 3.2,4.05 3.9,4.0`,
// Turkey
`0.6,5.0 0.9,5.05 0.85,2.7 0.95,2.25 1.05,1.55 1.2,1.8 1.1,2.5 1.25,2.5 1.45,2.55 1.85,2.7 2.0,2.25 2.05,2.15 3.15,0.7 4.2,2.55 1.05,3.75 1.45,4.6 1.55,4.1 1.85,3.1 2.15,3.3 1.7,4.8 2.0,5.2 1.35,4.3 2.3,3.0 2.6,2.85 2.9,3.2 3.2,3.0 3.5,3.25 3.85,3.1 4.3,3.3 5.05,3.7 1.9,3.55 2.3,3.65 2.65,3.45 3.0,3.6 3.3,3.45 3.65,3.6 4.0,3.5 4.45,3.65 4.85,3.9
2.3,5.3 2.6,5.2 2.9,5.32 3.2,5.2 3.5,5.3 3.8,5.2 4.1,5.32 4.4,5.2 4.7,5.3 5.0,5.2 5.3,5.3
2.2,5.0 2.5,5.08 2.8,4.95 3.1,5.05 3.4,4.95 3.7,5.08 4.0,4.95 4.3,5.05 4.6,4.95 4.9,5.05 5.2,4.95 5.4,5.1
2.1,4.7 2.4,4.78 2.7,4.65 3.0,4.76 3.3,4.65 3.6,4.76 3.9,4.64 4.2,4.75 4.5,4.64 4.8,4.75 5.1,4.64 5.35,4.75
2.25,4.4 2.55,4.45 2.85,4.33 3.15,4.45 3.45,4.35 3.75,4.45 4.05,4.33 4.35,4.45 4.65,4.35 4.95,4.45 5.3,4.4
2.4,4.1 2.7,4.15 3.0,4.05 3.3,4.15 3.6,4.05 3.9,4.15 4.2,4.05 4.55,4.15 4.9,4.05 5.25,4.2
2.6,3.8 2.95,3.85 3.3,3.75 3.7,3.85 4.1,3.78 4.5,3.9`,
// U.K.
`1.75,2.95 1.95,2.85 1.85,3.55 2.2,5.05 2.55,3.55 3.3,3.9 3.6,3.5 4.8,4.0 2.35,4.1 2.1,4.3 2.7,4.05 3.0,4.3 3.9,3.85 4.2,4.1 4.5,3.85
2.7,5.3 3.0,5.15 3.3,5.3 3.6,5.2 3.9,5.32 4.2,5.15 4.5,5.3 4.8,5.2 5.1,5.3 5.3,5.1
2.4,5.0 2.75,4.9 3.05,5.05 3.35,4.9 3.65,5.05 3.95,4.9 4.25,5.05 4.55,4.9 4.85,5.0 5.2,4.85
2.6,4.6 2.9,4.7 3.2,4.55 3.5,4.7 3.8,4.55 4.1,4.68 4.4,4.55 4.7,4.65 5.05,4.55 3.4,4.3 3.8,4.25 4.4,4.35 5.3,4.5`,
// Uganda
`1.15,3.2 1.3,2.9 1.65,3.7 1.85,3.55 2.8,2.05 3.75,1.85 3.35,3.2 3.6,3.6 1.45,5.15 1.6,4.9 1.5,4.5 1.9,4.2 2.2,3.9 2.5,3.7 2.8,3.95 3.1,3.75 3.9,4.0 4.2,3.85
2.0,5.2 2.3,5.05 2.6,5.25 2.9,5.1 3.2,5.3 3.5,5.15 3.8,5.3 4.1,5.15 4.4,5.3 4.7,5.15 5.0,5.25 5.2,4.95
2.1,4.75 2.4,4.85 2.7,4.7 3.0,4.85 3.3,4.7 3.6,4.85 3.9,4.7 4.2,4.85 4.5,4.7 4.8,4.8 5.15,4.7
2.3,4.45 2.65,4.35 2.95,4.5 3.25,4.35 3.55,4.5 3.85,4.35 4.15,4.5 4.5,4.4 3.0,4.1 3.5,4.05`,
// USA
`0.8,4.65 0.8,4.3 1.2,3.45 1.0,2.9 1.7,2.6 1.65,1.85 2.05,2.7 2.2,3.0 2.3,2.7 2.6,3.3 2.9,2.95 3.0,2.65 3.0,3.6 3.4,3.65 2.1,4.55 2.65,5.15 3.4,5.35 4.8,4.05 2.2,3.9 2.5,3.7 2.75,4.05
3.0,5.3 3.3,5.2 3.6,5.32 3.9,5.2 4.2,5.32 4.5,5.2 4.8,5.3 5.1,5.2 5.35,5.3
2.5,5.0 2.8,5.08 3.1,4.95 3.4,5.05 3.7,4.95 4.0,5.08 4.3,4.95 4.6,5.05 4.9,4.95 5.2,5.05 5.4,4.9
2.4,4.7 2.7,4.78 3.0,4.65 3.3,4.76 3.6,4.65 3.9,4.76 4.2,4.64 4.5,4.75 4.8,4.64 5.1,4.75 5.35,4.6
2.6,4.4 2.9,4.45 3.2,4.33 3.5,4.45 3.8,4.35 4.1,4.45 4.4,4.33 4.7,4.45 5.0,4.35 5.3,4.42
2.9,4.15 3.2,4.1 3.6,4.2 4.0,4.1 4.4,4.15 3.3,3.9`
];

const xTicks = [1, 2, 3, 4, 5];
const yTicks = [1, 2, 3, 4, 5];
const xMinor = [0.5, 1.5, 2.5, 3.5, 4.5, 5.5];
const yMinor = [1.5, 2.5, 3.5, 4.5, 5.5];
const xRange = [0.3, 5.65];
const yRange = [0.5, 5.55];

function parsePoints(s) {
    return s.trim().split(/\s+/).map(p => p.split(',').map(Number));
}

// background grid as broken polylines in data space (drawn under the points)
function gridPath(xs, ys) {
    const out = [];
    xs.forEach(v => { out.push([v, yRange[0]], [v, yRange[1]], [null, null]); });
    ys.forEach(v => { out.push([xRange[0], v], [xRange[1], v], [null, null]); });
    return out;
}
const minorPath = gridPath(xMinor, yMinor);
const majorPath = gridPath(xTicks, yTicks);

const chart = echarts.init(document.getElementById('chart'));

// facet layout
const COLS = 6;
const left0 = 62, stepX = 113.2, panelW = 110;
const top0 = 9, stepY = 112.5, stripH = 17, plotH = 91;
const FONT = "'Liberation Sans', Arial, sans-serif";

const grids = [], xAxes = [], yAxes = [], series = [], graphics = [];

countries.forEach((name, i) => {
    const c = i % COLS, r = Math.floor(i / COLS);
    const gl = left0 + c * stepX;
    const st = top0 + r * stepY;
    const isLeft = c === 0;
    const isBottom = i >= 30;

    grids.push({
        left: gl, top: st + stripH + 0.5, width: panelW, height: plotH,
        show: true, backgroundColor: '#fff', borderColor: '#808080', borderWidth: 1
    });

    xAxes.push({
        gridIndex: i, type: 'value', min: xRange[0], max: xRange[1],
        axisLine: { show: isBottom, onZero: false, lineStyle: { color: '#000', width: 2 } },
        axisTick: { show: isBottom, customValues: xTicks, length: 4, lineStyle: { color: '#333', width: 1.5 } },
        axisLabel: { show: isBottom, customValues: xTicks, color: '#333', fontWeight: 'bold', fontSize: 11, fontFamily: FONT, margin: 6 },
        splitLine: { show: false }
    });

    yAxes.push({
        gridIndex: i, type: 'value', min: yRange[0], max: yRange[1],
        axisLine: { show: isLeft, onZero: false, lineStyle: { color: '#000', width: 2 } },
        axisTick: { show: isLeft, customValues: yTicks, length: 4, lineStyle: { color: '#333', width: 1.5 } },
        axisLabel: { show: isLeft, customValues: yTicks, color: '#333', fontWeight: 'bold', fontSize: 11, fontFamily: FONT, margin: 7 },
        splitLine: { show: false }
    });

    series.push({
        type: 'line', xAxisIndex: i, yAxisIndex: i, data: minorPath, z: 1, silent: true,
        symbol: 'none', showSymbol: false, connectNulls: false,
        lineStyle: { color: '#f5f5f5', width: 0.7 }
    });
    series.push({
        type: 'line', xAxisIndex: i, yAxisIndex: i, data: majorPath, z: 1, silent: true,
        symbol: 'none', showSymbol: false, connectNulls: false,
        lineStyle: { color: '#ebebeb', width: 1 }
    });
    series.push({
        type: 'scatter', xAxisIndex: i, yAxisIndex: i, data: parsePoints(pointStrings[i]),
        symbolSize: 5.7, itemStyle: { color: '#000', opacity: 1 }, z: 3, silent: true
    });
    const f = fitLines[i];
    series.push({
        type: 'line', xAxisIndex: i, yAxisIndex: i, data: [[f[0], f[1]], [f[2], f[3]]],
        symbol: 'none', showSymbol: false, lineStyle: { color: '#3366FF', width: 2.3 }, z: 4, silent: true
    });

    // strip header
    graphics.push({
        type: 'rect', shape: { x: gl, y: st, width: panelW, height: stripH },
        style: { fill: '#d6d6d6', stroke: '#8c8c8c', lineWidth: 1 }, z: 10
    });
    graphics.push({
        type: 'text', x: gl + panelW / 2, y: st + stripH / 2 + 0.5, z: 11,
        style: { text: name, font: 'bold 11px ' + FONT, fill: '#1a1a1a',
                 align: 'center', verticalAlign: 'middle', textAlign: 'center', textVerticalAlign: 'middle' }
    });
});

// axis titles
graphics.push({
    type: 'text', x: 22, y: 345, rotation: Math.PI / 2, z: 11,
    style: { text: 'Relationship Satisfaction', font: 'bold 14px ' + FONT, fill: '#222',
             align: 'center', verticalAlign: 'middle', textAlign: 'center', textVerticalAlign: 'middle' }
});
graphics.push({
    type: 'text', x: 400, y: 720, z: 11,
    style: { text: 'Dyadic Coping', font: 'bold 14px ' + FONT, fill: '#222',
             align: 'center', verticalAlign: 'middle', textAlign: 'center', textVerticalAlign: 'middle' }
});
// screenshot frame edge
graphics.push({
    type: 'polyline', shape: { points: [[0, 0.5], [750.5, 0.5], [750.5, 736]] },
    style: { stroke: '#c8c8c8', lineWidth: 1, fill: null }, z: 11
});

chart.setOption({
    animation: false,
    grid: grids,
    xAxis: xAxes,
    yAxis: yAxes,
    series: series,
    graphic: graphics
});
</script>
</body>
</html>
